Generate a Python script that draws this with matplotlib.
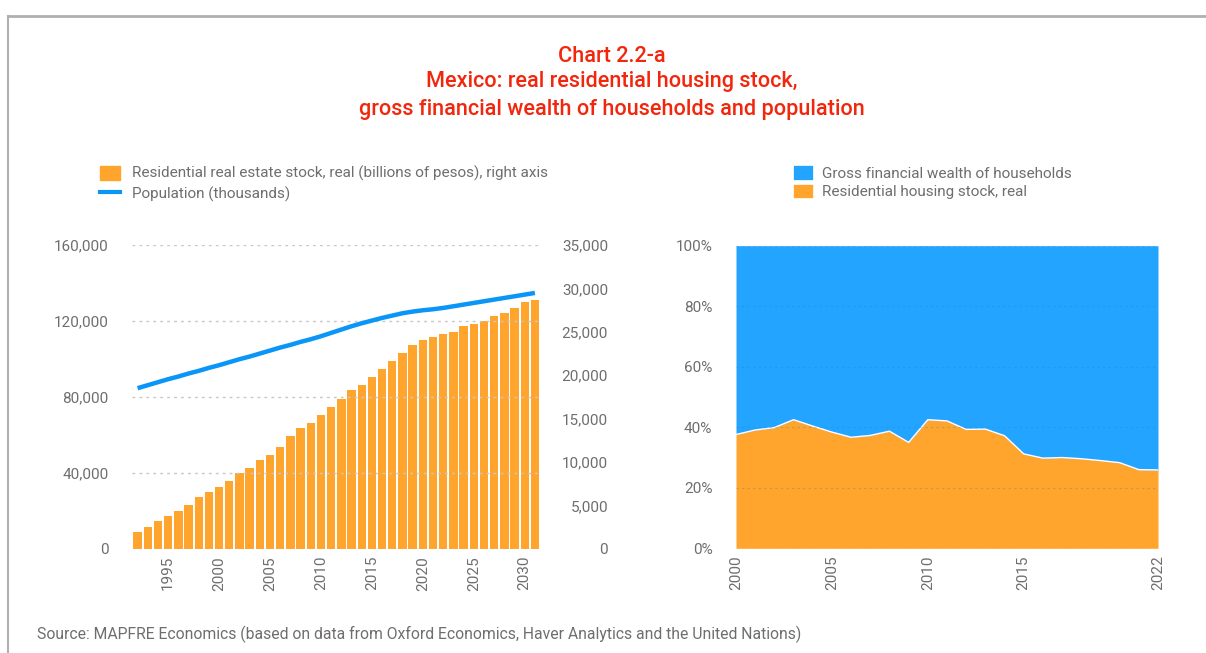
import matplotlib.pyplot as plt
from matplotlib.patches import Patch
from matplotlib.lines import Line2D
from matplotlib.ticker import FuncFormatter

plt.rcParams['font.family'] = ['Roboto', 'DejaVu Sans']

# left panel data
years = list(range(1992, 2032))
housing_stock = [1.95, 2.57, 3.26, 3.83, 4.41, 5.10, 6.02, 6.59, 7.17, 7.86,
                 8.78, 9.35, 10.27, 10.85, 11.77, 13.03, 13.95, 14.53, 15.45, 16.37,
                 17.29, 18.32, 18.90, 19.82, 20.74, 21.66, 22.58, 23.50, 24.07, 24.42,
                 24.76, 24.99, 25.68, 25.91, 26.26, 26.83, 27.18, 27.75, 28.44, 28.67]
housing_stock = [v * 1000 for v in housing_stock]
population = [84646, 86223, 87800, 89378, 90780, 92357, 93759, 95336, 96738, 98315,
              99892, 101295, 102872, 104449, 106026, 107428, 109006, 110408, 111985, 113737,
              115490, 117242, 118820, 120222, 121624, 122850, 124077, 124953, 125654, 126180,
              126881, 127757, 128634, 129510, 130386, 131263, 132139, 133015, 133891, 134768]

# right panel data
share_years = list(range(2000, 2023))
residential_share = [37.6, 39.1, 39.9, 42.5, 40.4, 38.4, 36.7, 37.3, 38.7, 35.0,
                     42.5, 42.1, 39.3, 39.4, 37.2, 31.2, 29.8, 30.0, 29.6, 29.0,
                     28.3, 26.0, 25.9]

ORANGE = '#FFA42C'
BLUE_AREA = '#23A4FF'
BLUE_LINE = '#0A96F6'
RED = '#F2260C'
GRAY = '#6E6E6E'

W, H = 1206, 653
fig = plt.figure(figsize=(W / 100, H / 100), dpi=100)

# frame lines
fig.add_artist(Line2D([8 / W, 1], [1 - 16 / H] * 2, color='#b0b0b0', lw=2))
fig.add_artist(Line2D([7.5 / W] * 2, [0, 1 - 16 / H], color='#b0b0b0', lw=1.5))

title_kw = dict(color=RED, fontsize=15.6, fontweight='medium', ha='center', va='center')
fig.text(0.507, 1 - 57 / H, 'Chart 2.2-a', **title_kw)
fig.text(0.507, 1 - 82 / H, 'Mexico: real residential housing stock,', **title_kw)
fig.text(0.507, 1 - 109 / H, 'gross financial wealth of households and population', **title_kw)
fig.text(37 / W, 1 - 634 / H,
         'Source: MAPFRE Economics (based on data from Oxford Economics, Haver Analytics and the United Nations)',
         color=GRAY, fontsize=11.3, ha='left', va='center')

# left panel
ax = fig.add_axes([132 / W, 1 - 549 / H, 408 / W, 304 / H])
ax2 = ax.twinx()
ax2.bar(years, housing_stock, width=0.82, color=ORANGE, zorder=2)
ax.plot(years, population, color=BLUE_LINE, lw=3.2, zorder=3, solid_capstyle='butt')
ax.set_zorder(ax2.get_zorder() + 1)
ax.patch.set_visible(False)

ax.set_xlim(1991.45, 2031.5)
ax.set_ylim(0, 160000)
ax2.set_ylim(0, 35000)
ax.set_yticks(range(0, 160001, 40000))
ax2.set_yticks(range(0, 35001, 5000))
ax.set_xticks(range(1995, 2031, 5))
fmt = FuncFormatter(lambda v, p: f'{v:,.0f}')
ax.yaxis.set_major_formatter(fmt)
ax2.yaxis.set_major_formatter(fmt)
ax.grid(axis='y', color='#c8c8c8', linestyle=(0, (2, 3)), lw=1)
ax2.grid(False)
ax.tick_params(axis='y', length=0, pad=17, labelsize=11, labelcolor=GRAY)
ax2.tick_params(axis='y', length=0, pad=49, labelsize=11, labelcolor=GRAY)
for t in ax2.get_yticklabels():
    t.set_horizontalalignment('right')
ax.tick_params(axis='x', length=0, pad=5, labelsize=11, labelcolor=GRAY, labelrotation=90)
for a in (ax, ax2):
    for s in a.spines.values():
        s.set_visible(False)

fig.legend(handles=[Patch(color=ORANGE), Line2D([], [], color=BLUE_LINE, lw=3)],
           labels=['Residential real estate stock, real (billions of pesos), right axis',
                   'Population (thousands)'],
           loc='upper left', bbox_to_anchor=(100 / W, 1 - 166 / H), frameon=False,
           fontsize=11, labelcolor=GRAY, handlelength=1.3, handleheight=1.0,
           handletextpad=0.8, labelspacing=0.3, borderpad=0, borderaxespad=0)

# right panel
bx = fig.add_axes([736 / W, 1 - 548.3 / H, 422 / W, 302.6 / H])
bx.fill_between(share_years, 0, residential_share, color=ORANGE, lw=0, zorder=1)
bx.fill_between(share_years, residential_share, 100, color=BLUE_AREA, lw=0, zorder=1)
bx.plot(share_years, residential_share, color='white', lw=1, zorder=2)
bx.set_xlim(2000, 2022)
bx.set_ylim(0, 100)
bx.set_yticks(range(0, 101, 20))
bx.yaxis.set_major_formatter(FuncFormatter(lambda v, p: f'{v:.0f}%'))
bx.set_xticks([2000, 2005, 2010, 2015, 2022])
bx.set_axisbelow(False)
bx.grid(axis='y', color='#1a86d0', linestyle=(0, (2, 3)), lw=0.8, alpha=0.3)
bx.tick_params(axis='y', length=0, pad=17, labelsize=11, labelcolor=GRAY)
bx.tick_params(axis='x', length=0, pad=5, labelsize=11, labelcolor=GRAY, labelrotation=90)
for s in bx.spines.values():
    s.set_visible(False)

fig.legend(handles=[Patch(facecolor=BLUE_AREA, edgecolor='white', lw=0.5),
                    Patch(facecolor=ORANGE, edgecolor='white', lw=0.5)],
           labels=['Gross financial wealth of households', 'Residential housing stock, real'],
           loc='upper left', bbox_to_anchor=(793 / W, 1 - 165 / H), frameon=False,
           fontsize=11, labelcolor=GRAY, handlelength=1.3, handleheight=1.1,
           handletextpad=0.6, labelspacing=0.2, borderpad=0, borderaxespad=0)

fig.savefig('out.png', dpi=100)
